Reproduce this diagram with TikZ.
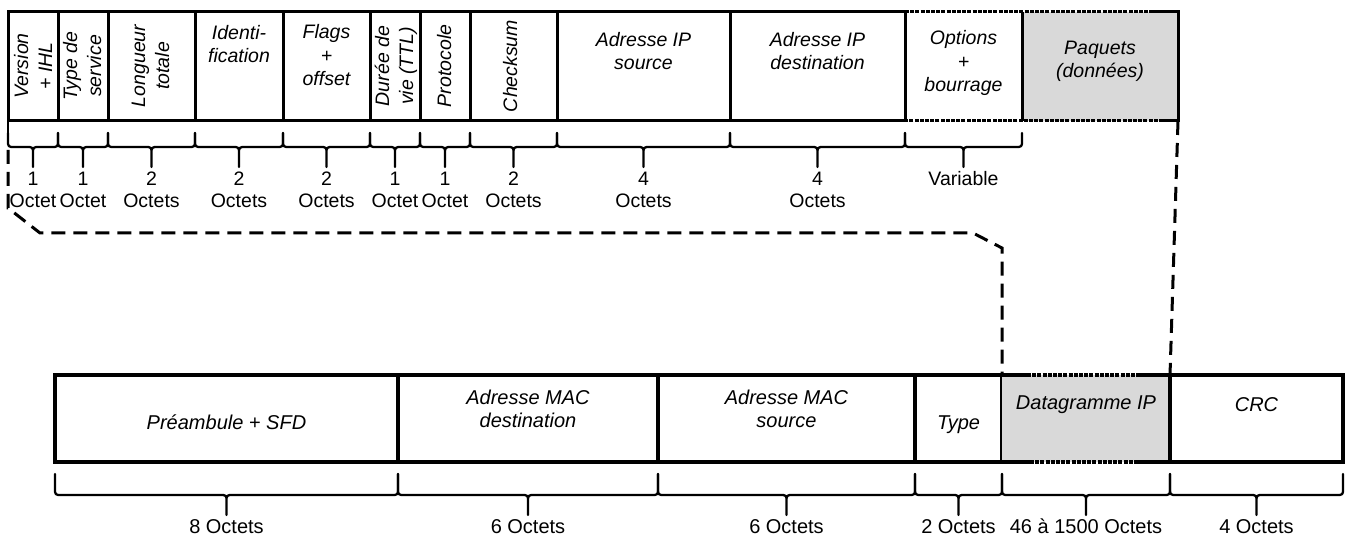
\documentclass[tikz,border=0pt]{standalone}
\usepackage{fontspec}
\setmainfont{Liberation Sans}
\definecolor{grayfill}{HTML}{D9D9D9}
\newcommand{\mybrace}[5]{%
  \pgfmathsetmacro{\xm}{(#1+#2)/2}%
  \pgfmathsetmacro{\yf}{#3+#4}%
  \pgfmathsetmacro{\yt}{#3+#4+#5}%
  \draw[bracestyle] (#1,#3) -- (#1,\yf-7) .. controls (#1,\yf) .. (#1+7,\yf) -- (\xm-7,\yf) .. controls (\xm,\yf) .. (\xm,\yf+7) -- (\xm,\yt)
    (#2,#3) -- (#2,\yf-7) .. controls (#2,\yf) .. (#2-7,\yf) -- (\xm+7,\yf) .. controls (\xm,\yf) .. (\xm,\yf+7) -- (\xm,\yt);%
}
\begin{document}
\begin{tikzpicture}[x=1pt,y=-1pt,
  cellT/.style={draw, line width=3pt, minimum height=109pt, inner sep=0pt, outer sep=0pt, anchor=north west},
  cellB/.style={draw, line width=3.5pt, minimum height=87pt, inner sep=0pt, outer sep=0pt, anchor=north west},
  wT/.style={line width=3pt},
  wB/.style={line width=3.5pt},
  dotT/.style={line width=3pt, dash pattern=on 4pt off 1.2pt},
  dotB/.style={line width=3.5pt, dash pattern=on 4pt off 1.2pt},
  labH/.style={align=center, inner sep=0pt, text height=13pt, text depth=1pt,
    font=\fontsize{19.5}{23.5}\selectfont\itshape},
  labR/.style={labH, rotate=90, font=\fontsize{19.5}{24}\selectfont\itshape},
  labB/.style={labH, font=\fontsize{20}{23}\selectfont\itshape},
  sz/.style={align=center, inner sep=0pt, text height=13pt, text depth=1pt,
    font=\fontsize{19.5}{22}\selectfont},
  szB/.style={sz, font=\fontsize{20}{22}\selectfont},
  bracestyle/.style={line width=2.3pt, line cap=round, line join=round},
  dashline/.style={line width=3pt, dash pattern=on 14pt off 8pt}
]
\useasboundingbox (0,0) rectangle (1349,537);

% ---------- top row (IP header) ----------
\node[cellT, minimum width=50pt] (ver) at (8,12) {};
\node[cellT, minimum width=50pt] (tos) at (58,12) {};
\node[cellT, minimum width=87pt] (len) at (108,12) {};
\node[cellT, minimum width=88pt] (idf) at (195,12) {};
\node[cellT, minimum width=87pt] (flg) at (283,12) {};
\node[cellT, minimum width=50pt] (ttl) at (370,12) {};
\node[cellT, minimum width=50pt] (pro) at (420,12) {};
\node[cellT, minimum width=87pt] (chk) at (470,12) {};
\node[cellT, minimum width=173pt] (ips) at (557,12) {};
\node[cellT, minimum width=175pt] (ipd) at (730,12) {};
\node[cellT, draw=none, minimum width=117pt] (opt) at (905,12) {};
\node[cellT, draw=none, fill=grayfill, minimum width=156pt] (paq) at (1022,12) {};

\draw[wT] (opt.north west) -- (opt.south west);
\draw[wT] (paq.north west) -- (paq.south west);
\draw[dotT] (opt.north west) -- (1150,12);
\draw[wT] (1150,12) -- (paq.north east) -- (paq.south east) -- (1163,121);
\draw[dotT] (1163,121) -- (opt.south west);

% multi-line labels are positioned by their last line
\node[labR] (tver) at (46,66) {Version\\+ IHL};
\node[labR] (ttos) at (95,66) {Type de\\service};
\node[labR] (tlen) at (163,66) {Longueur\\totale};
\node[labH] (tidf) at (239,57) {Identi-\\fication};
\node[labH] (tflg) at (326.5,80) {Flags\\+\\offset};
\node[labR] (tttl) at (407,66) {Durée de\\vie (TTL)};
\node[labR] (tpro) at (445,66) {Protocole};
\node[labR] (tchk) at (511,66) {Checksum};
\node[labH] (tips) at (643.5,64) {Adresse IP\\source};
\node[labH] (tipd) at (817.5,64) {Adresse IP\\destination};
\node[labH] (topt) at (963.5,86) {Options\\+\\bourrage};
\node[labH] (tpaq) at (1100,72) {Paquets\\(données)};

% braces (top)
\draw[bracestyle] (8,121) -- (8,133);
\mybrace{8}{58}{133}{14}{20}
\mybrace{58}{108}{133}{14}{20}
\mybrace{108}{195}{133}{14}{20}
\mybrace{195}{283}{133}{14}{20}
\mybrace{283}{370}{133}{14}{20}
\mybrace{370}{420}{133}{14}{20}
\mybrace{420}{470}{133}{14}{20}
\mybrace{470}{557}{133}{14}{20}
\mybrace{557}{730}{133}{14}{20}
\mybrace{730}{905}{133}{14}{20}
\mybrace{905}{1022}{133}{14}{20}

\node[sz] (s1) at (33,202) {1\\Octet};
\node[sz] (s2) at (83,202) {1\\Octet};
\node[sz] (s3) at (151.5,202) {2\\Octets};
\node[sz] (s4) at (239,202) {2\\Octets};
\node[sz] (s5) at (326.5,202) {2\\Octets};
\node[sz] (s6) at (395,202) {1\\Octet};
\node[sz] (s7) at (445,202) {1\\Octet};
\node[sz] (s8) at (513.5,202) {2\\Octets};
\node[sz] (s9) at (643.5,202) {4\\Octets};
\node[sz] (s10) at (817.5,202) {4\\Octets};
\node[sz] (s11) at (963.5,180) {Variable};

% ---------- bottom row (Ethernet frame) ----------
\node[cellB, minimum width=343pt] (pre) at (55,375) {};
\node[cellB, minimum width=260pt] (macd) at (398,375) {};
\node[cellB, minimum width=257pt] (macs) at (658,375) {};
\node[cellB, minimum width=87pt] (typ) at (915,375) {};
\node[cellB, draw=none, fill=grayfill, minimum width=168pt] (dg) at (1002,375) {};
\node[cellB, minimum width=173pt] (crc) at (1170,375) {};

\draw[wB] (dg.north west) -- (1027,375);
\draw[dotB] (1027,375) -- (1137,375);
\draw[wB] (1137,375) -- (dg.north east);
\draw[wB] (dg.south west) -- (1030,462);
\draw[dotB] (1030,462) -- (1137,462);
\draw[wB] (1137,462) -- (dg.south east);

\node[labB] (tpre) at (226.5,423) {Préambule + SFD};
\node[labB] (tmacd) at (528,421) {Adresse MAC\\destination};
\node[labB] (tmacs) at (786.5,421) {Adresse MAC\\source};
\node[labB] (ttyp) at (958.5,423) {Type};
\node[labB] (tdg) at (1086,403) {Datagramme IP};
\node[labB] (tcrc) at (1256.5,405) {CRC};

% braces (bottom)
\mybrace{55}{398}{474}{21}{20}
\mybrace{398}{658}{474}{21}{20}
\mybrace{658}{915}{474}{21}{20}
\mybrace{915}{1002}{474}{21}{20}
\mybrace{1002}{1170}{474}{21}{20}
\mybrace{1170}{1343}{474}{21}{20}

\node[szB] (b1) at (226.5,527) {8 Octets};
\node[szB] (b2) at (528,527) {6 Octets};
\node[szB] (b3) at (786.5,527) {6 Octets};
\node[szB] (b4) at (958.5,527) {2 Octets};
\node[szB] (b5) at (1086,527) {46 à 1500 Octets};
\node[szB] (b6) at (1256.5,527) {4 Octets};

% ---------- dashed expansion lines ----------
\coordinate (d0) at (8,150);
\coordinate (d1) at (8,208);
\coordinate (d2) at (40,233);
\coordinate (d3) at (973,233);
\coordinate (d4) at (1002,248);
\draw[dashline] (d0) -- (d1) -- (d2) -- (d3) -- (d4) -- (dg.north west);
\draw[dashline] (paq.south east) -- (dg.north east);
\end{tikzpicture}
\end{document}
